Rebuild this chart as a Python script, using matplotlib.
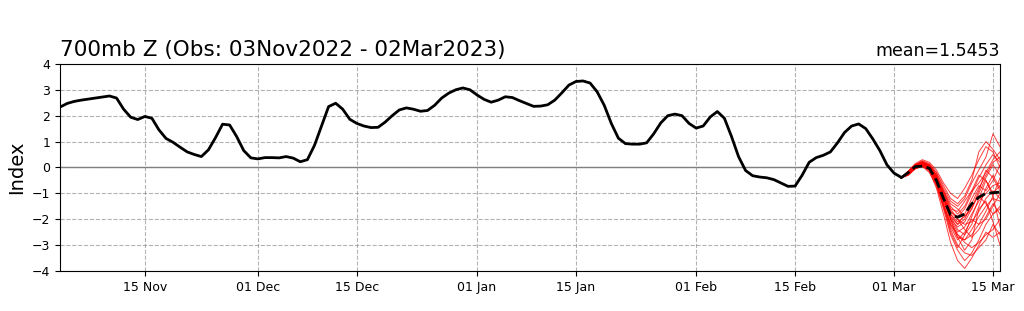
import numpy as np
import pandas as pd
import matplotlib
matplotlib.use("Agg")
import matplotlib.pyplot as plt
import matplotlib.dates as mdates

# observed index, daily from 03 Nov 2022 to 02 Mar 2023
obs_start = "2022-11-03"
obs_values = [
    2.33, 2.47, 2.55, 2.60, 2.64, 2.68, 2.72, 2.76, 2.68, 2.25,
    1.94, 1.85, 1.97, 1.90, 1.45, 1.12, 0.97, 0.78, 0.60, 0.50,
    0.42, 0.68, 1.15, 1.67, 1.64, 1.19, 0.65, 0.37, 0.33, 0.38,
    0.38, 0.37, 0.42, 0.36, 0.22, 0.30, 0.85, 1.60, 2.35, 2.48,
    2.25, 1.86, 1.70, 1.60, 1.54, 1.55, 1.75, 2.00, 2.22, 2.30,
    2.25, 2.17, 2.20, 2.40, 2.68, 2.87, 3.00, 3.07, 3.00, 2.80,
    2.63, 2.52, 2.60, 2.73, 2.70, 2.58, 2.47, 2.36, 2.37, 2.42,
    2.60, 2.88, 3.18, 3.32, 3.34, 3.26, 2.92, 2.40, 1.70, 1.13,
    0.92, 0.90, 0.90, 0.95, 1.30, 1.72, 2.00, 2.06, 2.00, 1.70,
    1.52, 1.60, 1.95, 2.16, 1.90, 1.20, 0.42, -0.12, -0.32, -0.37,
    -0.40, -0.47, -0.60, -0.73, -0.72, -0.30, 0.20, 0.38, 0.47, 0.60,
    0.95, 1.35, 1.60, 1.68, 1.50, 1.10, 0.65, 0.10, -0.22, -0.38,
]

# ensemble forecast, daily from 02 Mar 2023 to 16 Mar 2023
fcst_start = "2023-03-02"
members = [
    [-0.40, -0.20, 0.05, 0.15, 0.05, -0.40, -1.10, -1.80, -2.20, -2.00, -1.40, -0.80, -0.30, 0.20, 0.40],
    [-0.40, -0.25, 0.00, 0.10, -0.05, -0.60, -1.40, -2.20, -2.70, -2.80, -2.40, -1.90, -1.50, -1.20, -1.30],
    [-0.40, -0.15, 0.10, 0.25, 0.15, -0.20, -0.80, -1.30, -1.50, -1.20, -0.60, -0.10, 0.40, 1.30, 0.80],
    [-0.40, -0.30, -0.05, 0.05, -0.10, -0.70, -1.60, -2.60, -3.20, -3.60, -3.30, -2.80, -2.20, -1.80, -1.50],
    [-0.40, -0.20, 0.05, 0.20, 0.10, -0.30, -1.00, -1.70, -1.90, -1.60, -1.00, -0.40, 0.10, 0.50, 0.20],
    [-0.40, -0.25, 0.00, 0.15, 0.00, -0.50, -1.30, -2.10, -2.60, -2.90, -3.10, -2.90, -2.60, -2.40, -2.00],
    [-0.40, -0.15, 0.15, 0.30, 0.20, -0.10, -0.60, -1.00, -1.20, -0.80, -0.30, 0.30, 0.80, 0.60, 0.00],
    [-0.40, -0.20, 0.05, 0.10, -0.05, -0.50, -1.20, -2.00, -2.50, -2.30, -1.80, -1.30, -1.00, -0.70, -0.60],
    [-0.40, -0.30, -0.05, 0.05, -0.15, -0.80, -1.80, -2.90, -3.60, -3.90, -3.50, -3.00, -2.50, -2.70, -2.50],
    [-0.40, -0.20, 0.10, 0.20, 0.05, -0.40, -1.10, -1.90, -2.40, -2.60, -2.20, -1.50, -0.80, -0.30, -0.80],
    [-0.40, -0.20, 0.00, 0.10, 0.00, -0.50, -1.20, -1.80, -2.10, -1.90, -1.50, -1.10, -1.40, -1.80, -1.60],
    [-0.40, -0.15, 0.10, 0.25, 0.10, -0.30, -0.90, -1.50, -1.80, -1.50, -0.90, -0.30, -0.50, -1.00, -0.70],
    [-0.40, -0.25, -0.05, 0.05, -0.10, -0.60, -1.50, -2.40, -3.00, -3.30, -3.40, -3.10, -2.80, -2.20, -2.60],
    [-0.40, -0.20, 0.05, 0.15, 0.00, -0.40, -1.20, -2.00, -2.30, -2.10, -1.60, -1.00, -0.40, 0.10, -0.30],
    [-0.40, -0.20, 0.05, 0.20, 0.05, -0.30, -0.90, -1.60, -2.00, -2.20, -2.10, -1.70, -1.20, -0.90, -1.20],
    [-0.40, -0.25, 0.00, 0.10, -0.05, -0.60, -1.40, -2.30, -2.80, -2.50, -2.00, -2.20, -2.00, -1.50, -1.00],
    [-0.40, -0.20, 0.05, 0.15, 0.05, -0.40, -1.00, -1.60, -1.70, -1.30, -0.90, -0.60, -0.20, 0.30, 0.60],
    [-0.40, -0.30, -0.05, 0.05, -0.20, -0.70, -1.50, -2.20, -2.60, -2.80, -2.60, -2.20, -1.70, -1.10, -0.40],
    [-0.40, -0.20, 0.10, 0.20, 0.05, -0.40, -1.10, -1.70, -2.00, -2.40, -2.70, -2.40, -1.90, -1.40, -1.80],
    [-0.40, -0.20, 0.05, 0.15, 0.00, -0.50, -1.20, -1.90, -2.20, -1.80, -1.20, -0.70, -0.90, -0.50, 0.10],
    [-0.40, -0.15, 0.10, 0.20, 0.10, -0.20, -0.70, -1.20, -1.40, -1.10, -0.50, 0.60, 1.00, 0.70, 0.30],
    [-0.40, -0.20, 0.05, 0.15, 0.00, -0.60, -1.50, -2.50, -3.10, -2.60, -1.90, -1.20, -0.50, -1.10, -2.30],
    [-0.40, -0.25, 0.00, 0.10, -0.05, -0.40, -0.90, -1.40, -1.60, -1.90, -1.60, -0.90, -0.10, -0.40, -0.90],
    [-0.40, -0.20, 0.05, 0.20, 0.10, -0.30, -1.10, -2.00, -2.70, -3.20, -2.80, -1.60, -1.30, -2.10, -3.00],
]
ens_mean = [-0.40, -0.20, 0.03, 0.05, -0.03, -0.50, -1.20, -1.83, -1.92, -1.80, -1.40, -1.15, -1.00, -0.98, -0.95]

title = "700mb Z (Obs: 03Nov2022 - 02Mar2023)"
mean_text = "mean=1.5453"

obs_dates = pd.date_range(obs_start, periods=len(obs_values), freq="D")
fcst_dates = pd.date_range(fcst_start, periods=len(ens_mean), freq="D")

fig = plt.figure(figsize=(10.24, 3.11), dpi=100)
ax = fig.add_axes([0.0586, 0.1286, 0.918, 0.666])

ax.axhline(0, color="gray", lw=1, zorder=1)
for m in members:
    ax.plot(fcst_dates, m, color="red", lw=0.7, alpha=0.75, zorder=2)
ax.plot(obs_dates, obs_values, color="black", lw=2, zorder=3)
ax.plot(fcst_dates, ens_mean, color="black", lw=2, ls="--", zorder=4)

ax.set_xlim(pd.Timestamp("2022-11-03"), pd.Timestamp("2023-03-16"))
ax.set_ylim(-4, 4)
ax.set_yticks(range(-4, 5))
ax.xaxis.set_major_locator(mdates.DayLocator(bymonthday=[1, 15]))
ax.xaxis.set_major_formatter(mdates.DateFormatter("%d %b"))
ax.tick_params(labelsize=9)
ax.grid(True, ls="--", color="gray", alpha=0.6, lw=0.8)

ax.set_ylabel("Index", fontsize=14)
ax.set_title(title, loc="left", fontsize=15.5, pad=6)
ax.set_title(mean_text, loc="right", fontsize=12.5, pad=6)

fig.savefig("out.png", dpi=100)
